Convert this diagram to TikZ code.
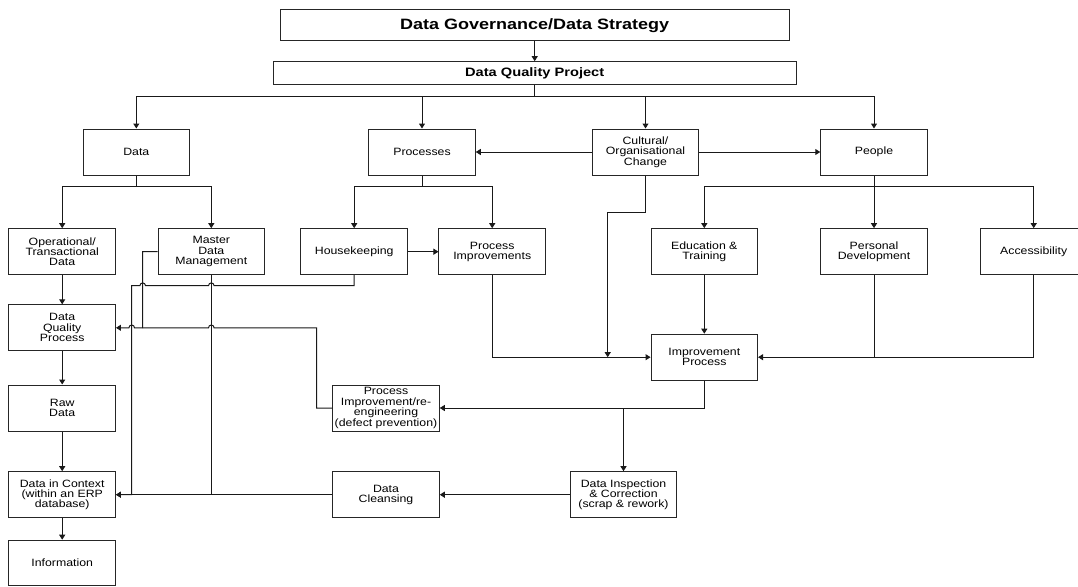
\documentclass[tikz,border=0pt]{standalone}
\usepackage{fontspec}
\setmainfont[FakeStretch=1.16]{Liberation Sans}
\newfontfamily\titlefont[FakeStretch=1.2]{Liberation Sans}
\usetikzlibrary{arrows.meta}
\begin{document}
\begin{tikzpicture}[x=1pt,y=-1pt,
  box/.style={draw=black!85,line width=1pt,minimum width=106.5pt,minimum height=46pt,inner sep=0pt,align=center,
    font=\fontsize{10.6}{10.4}\selectfont},
  topbox/.style={draw=black!85,line width=1pt,inner sep=0pt,align=center,font=\titlefont\bfseries},
  conn/.style={line width=1pt,black!90},
  arr/.style={conn,-{Triangle[length=5pt,width=6pt]}}
]
\useasboundingbox (0,0) rectangle (1078,586);
\clip (0,0) rectangle (1078,586);
\fill[white] (0,0) rectangle (1078,586);

% top
\node[topbox,minimum width=509.3pt,minimum height=30.7pt,font=\titlefont\bfseries\fontsize{15}{16}\selectfont] (gov) at (534.7,25.35) {Data Governance/Data Strategy};
\node[topbox,minimum width=522.7pt,minimum height=22.3pt,font=\titlefont\bfseries\fontsize{12.2}{13}\selectfont] (dqp) at (534.7,72.85) {Data Quality Project};

% row 1
\node[box] (data)   at (136.3,152) {Data};
\node[box] (proc)   at (422,152) {Processes};
\node[box] (cult)   at (645.5,152) {Cultural/\\Organisational\\Change};
\node[box] (people) at (874,152) {People};

% row 2
\node[box] (oper)  at (62.2,251.7)  {Operational/\\Transactional\\Data};
\node[box] (mdm)   at (211.3,251.7) {Master\\Data\\Management};
\node[box] (house) at (354.2,251.7) {Housekeeping};
\node[box] (pi)    at (492.2,251.7) {Process\\Improvements};
\node[box] (edu)   at (704.3,251.7) {Education \&\\Training};
\node[box] (pers)  at (874,251.7)   {Personal\\Development};
\node[box] (acc)   at (1033.7,251.7) {Accessibility};

% left column
\node[box] (dqproc) at (62.2,327.8) {Data\\Quality\\Process};
\node[box] (raw)    at (62.2,408)   {Raw\\Data};
\node[box] (dic)    at (62.2,494.7) {Data in Context\\(within an ERP\\database)};
\node[box,minimum height=45pt] (info) at (62.2,562.7) {Information};

% middle
\node[box] (impr)   at (704.3,357.2) {Improvement\\Process};
\node[box] (pir)    at (386,408)     {Process\\Improvement/re-\\engineering\\(defect prevention)};
\node[box] (dclean) at (386,494.7)   {Data\\Cleansing};
\node[box] (dinsp)  at (623.5,494.7) {Data Inspection\\\& Correction\\(scrap \& rework)};

% connectors top
\draw[arr] (gov.south) -- (dqp.north);
\draw[conn] (dqp.south) -- ++(0,11.7) coordinate (bus);
\draw[arr] (bus) -| (data.north);
\draw[arr] (bus) -| (proc.north);
\draw[arr] (bus) -| (cult.north);
\draw[arr] (bus) -| (people.north);
\draw[arr] (cult.west) -- (proc.east);
\draw[arr] (cult.east) -- (people.west);

% row1 -> row2
\draw[conn] (data.south) -- ++(0,11.3) coordinate (db);
\draw[arr] (db) -| (oper.north);
\draw[arr] (db) -| (mdm.north);
\draw[conn] (proc.south) -- ++(0,11.3) coordinate (pb);
\draw[arr] (pb) -| (house.north);
\draw[arr] (pb) -| (pi.north);
\draw[conn] (people.south) -- ++(0,11.3) coordinate (ppb);
\draw[arr] (ppb) -| (edu.north);
\draw[arr] (ppb) -| (pers.north);
\draw[arr] (ppb) -| (acc.north);
\draw[arr] (house.east) -- (pi.west);

% left column flow
\draw[arr] (oper.south) -- (dqproc.north);
\draw[arr] (dqproc.south) -- (raw.north);
\draw[arr] (raw.south) -- (dic.north);
\draw[arr] (dic.south) -- (info.north);

% master data -> data quality process
\draw[arr] (mdm.west) -- (142.7,251.7) -- (142.7,327.8) -- (134.5,327.8)
  arc[start angle=0,end angle=180,radius=2.8pt] -- (dqproc.east);
% housekeeping -> data in context
\draw[arr] (house.south) -- (354.2,285.7) -- (214.1,285.7)
  arc[start angle=0,end angle=180,radius=2.8pt] -- (145.5,285.7)
  arc[start angle=0,end angle=180,radius=2.8pt] -- (131.7,285.7) -- (131.7,494.7) -- (dic.east);
% master data -> data in context
\draw[conn] (mdm.south) -- (211.3,494.7);
% process improvement/re-engineering -> data quality process
\draw[conn] (pir.west) -- (316.7,408) -- (316.7,327.8) -- (214.1,327.8)
  arc[start angle=0,end angle=180,radius=2.8pt] -- (142.7,327.8);

% improvement process inputs
\draw[arr] (pi.south) |- (impr.west);
\draw[arr] (cult.south) -- (645.5,212.7) -- (607.7,212.7) -- (607.7,357.2);
\draw[arr] (edu.south) -- (impr.north);
\draw[conn] (pers.south) -- (874,357.2);
\draw[arr] (acc.south) |- (impr.east);

% improvement process outputs
\draw[arr] (impr.south) |- (pir.east);
\draw[arr] (dinsp.north |- pir.east) -- (dinsp.north);
\draw[arr] (dinsp.west) -- (dclean.east);
\draw[arr] (dclean.west) -- (dic.east);
\end{tikzpicture}
\end{document}
